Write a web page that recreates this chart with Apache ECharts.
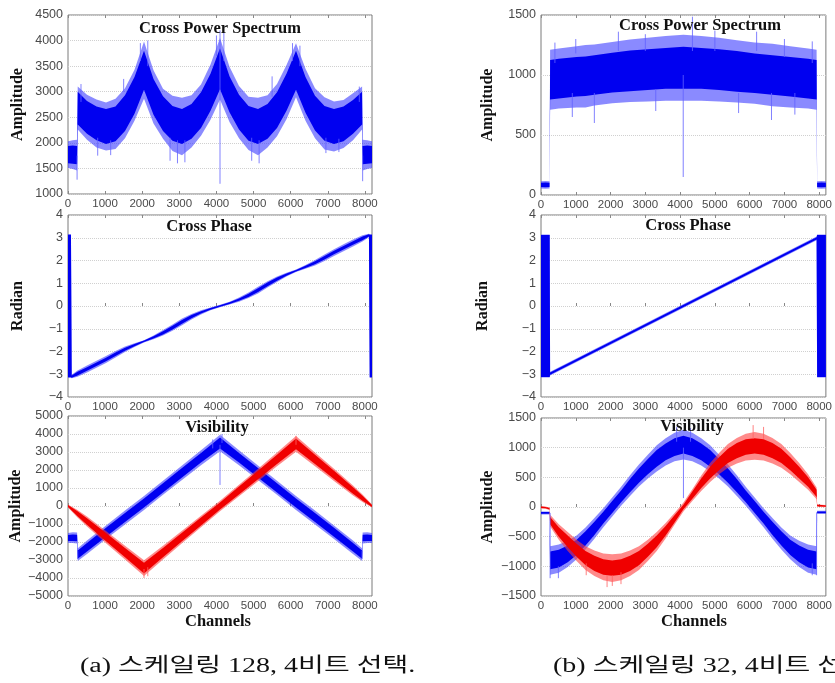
<!DOCTYPE html>
<html>
<head>
<meta charset="utf-8">
<script src="https://cdn.jsdelivr.net/npm/echarts@6/dist/echarts.min.js"></script>
<style>
  body { margin: 0; background: #fff; }
  #chart { width: 835px; height: 683px; }
</style>
</head>
<body>
<div id="chart"></div>
<script>
var channelTicks = [0, 1000, 2000, 3000, 4000, 5000, 6000, 7000, 8000];

// (a) scaling 128 - cross power spectrum (mid value, dense half width, light half width)
var a1Ch   = [0, 128, 245, 262, 512, 768, 1024, 1280, 1536, 1792, 2048, 2304, 2560, 2816, 3072, 3328, 3584, 3840, 4096, 4352, 4608, 4864, 5120, 5376, 5632, 5888, 6144, 6400, 6656, 6912, 7168, 7424, 7680, 7925, 7940, 8064, 8192];
var a1Mid  = [1770, 1770, 1760, 2680, 2500, 2380, 2320, 2370, 2580, 2930, 3420, 2900, 2570, 2380, 2320, 2420, 2640, 2990, 3450, 2950, 2600, 2380, 2320, 2420, 2640, 2990, 3420, 2940, 2580, 2380, 2320, 2370, 2510, 2680, 1760, 1770, 1770];
var a1Core = [170, 180, 180, 320, 320, 330, 340, 340, 350, 360, 380, 350, 340, 340, 340, 340, 350, 360, 400, 350, 340, 340, 340, 340, 350, 360, 380, 350, 340, 340, 340, 340, 330, 320, 180, 180, 170];
var a1Fuzz = [260, 280, 300, 420, 440, 470, 470, 490, 490, 500, 560, 520, 490, 540, 560, 510, 500, 540, 600, 540, 510, 520, 560, 510, 510, 530, 530, 510, 490, 510, 490, 470, 460, 420, 300, 280, 260];
var a1Spikes = [[4096, 1200, 4200], [245, 1280, 1750], [7940, 1250, 1750], [800, 1750, 2100], [1150, 1760, 2050],
  [2750, 1650, 2100], [2950, 1600, 2050], [3150, 1620, 2050], [4950, 1650, 2100], [5150, 1600, 2050], [6950, 1800, 2100],
  [7300, 1820, 2080], [350, 2800, 3150], [1950, 3600, 3950], [2150, 3500, 4000], [4000, 3700, 4100], [4200, 3600, 4150],
  [6050, 3600, 3950], [6250, 3500, 3900], [7850, 2800, 3100], [1500, 3000, 3250], [5500, 2900, 3300]];

// (a) cross phase
var a2Ch   = [0, 80, 100, 256, 512, 768, 1024, 1280, 1536, 1792, 2048, 2304, 2560, 2816, 3072, 3328, 3584, 3840, 4096, 4352, 4608, 4864, 5120, 5376, 5632, 5888, 6144, 6400, 6656, 6912, 7168, 7424, 7680, 7936, 8110, 8130, 8192];
var a2Mid  = [0, 0, -3.1, -2.97, -2.77, -2.56, -2.35, -2.12, -1.9, -1.72, -1.55, -1.38, -1.18, -0.95, -0.7, -0.47, -0.28, -0.13, 0, 0.13, 0.28, 0.47, 0.7, 0.95, 1.18, 1.38, 1.55, 1.72, 1.9, 2.12, 2.35, 2.56, 2.77, 2.97, 3.1, 0, 0];
var a2Core = [3.13, 3.13, 0.05, 0.08, 0.08, 0.08, 0.08, 0.08, 0.07, 0.05, 0.03, 0.05, 0.07, 0.08, 0.08, 0.07, 0.05, 0.04, 0.03, 0.04, 0.05, 0.07, 0.08, 0.08, 0.07, 0.05, 0.03, 0.05, 0.07, 0.08, 0.08, 0.08, 0.08, 0.08, 0.05, 3.13, 3.13];
var a2Fuzz = [3.15, 3.15, 0.08, 0.14, 0.15, 0.15, 0.15, 0.14, 0.12, 0.08, 0.05, 0.08, 0.12, 0.14, 0.15, 0.12, 0.09, 0.06, 0.05, 0.06, 0.09, 0.12, 0.15, 0.14, 0.12, 0.08, 0.05, 0.08, 0.12, 0.14, 0.15, 0.15, 0.15, 0.14, 0.08, 3.15, 3.15];

// (a) visibility, real (blue) and imaginary (red)
var a3BlueCh   = [0, 128, 245, 262, 512, 1024, 1536, 2048, 2560, 3072, 3584, 4096, 4608, 5120, 5632, 6144, 6656, 7168, 7680, 7925, 7940, 8064, 8192];
var a3BlueMid  = [-1780, -1760, -1780, -2700, -2290, -1460, -640, 170, 1010, 1850, 2680, 3500, 2680, 1850, 1010, 170, -640, -1460, -2290, -2700, -1780, -1760, -1780];
var a3BlueCore = [170, 180, 180, 230, 240, 250, 250, 250, 260, 260, 270, 300, 270, 260, 260, 250, 250, 250, 240, 230, 180, 180, 170];
var a3BlueFuzz = [280, 300, 310, 350, 370, 370, 390, 390, 390, 400, 420, 460, 420, 400, 390, 390, 390, 370, 370, 350, 310, 300, 280];
var a3BlueSpikes = [[4096, 1170, 3400], [262, -2950, -2500], [7925, -2950, -2500], [4150, 3500, 4000], [3900, 3200, 3700]];
var a3RedCh   = [0, 256, 512, 1024, 1536, 2048, 2560, 3072, 3584, 4096, 4608, 5120, 5632, 6144, 6656, 7168, 7680, 7936, 8192];
var a3RedMid  = [0, -430, -860, -1725, -2590, -3450, -2590, -1725, -860, 0, 860, 1725, 2590, 3450, 2590, 1725, 860, 430, 0];
var a3RedCore = [60, 140, 180, 230, 260, 300, 260, 240, 220, 200, 220, 240, 260, 300, 260, 230, 180, 140, 60];
var a3RedFuzz = [90, 210, 280, 340, 380, 440, 380, 350, 320, 290, 320, 350, 380, 440, 380, 340, 280, 210, 90];
var a3RedSpikes = [[2048, -4000, -3500], [2150, -3900, -3400], [6144, 3400, 3900]];

// (b) scaling 32 - cross power spectrum
var b1Ch   = [0, 128, 245, 262, 512, 1024, 1280, 1536, 2048, 2560, 3072, 3584, 4096, 4608, 5120, 5632, 6144, 6656, 7168, 7680, 7925, 7940, 8064, 8192];
var b1Mid  = [85, 85, 85, 960, 970, 985, 990, 1000, 1020, 1035, 1045, 1055, 1060, 1055, 1045, 1030, 1015, 1000, 985, 970, 960, 85, 85, 85];
var b1Core = [18, 20, 18, 165, 165, 165, 165, 165, 165, 170, 170, 170, 175, 170, 170, 170, 165, 165, 165, 165, 165, 18, 20, 18];
var b1Fuzz = [30, 32, 30, 250, 250, 255, 260, 255, 255, 260, 265, 270, 275, 270, 265, 260, 255, 260, 255, 250, 250, 30, 32, 30];
var b1Spikes = [[4090, 150, 1000], [1534, 600, 850], [6628, 625, 850], [5682, 683, 850], [4355, 1200, 1486], [6200, 1200, 1361],
  [2225, 1200, 1361], [900, 650, 850], [3300, 700, 880], [7300, 670, 850], [1000, 1180, 1300], [3000, 1200, 1340],
  [5000, 1200, 1370], [7000, 1150, 1300], [7800, 1100, 1280], [400, 1100, 1270]];

// (b) cross phase
var b2Ch   = [0, 250, 262, 7925, 7940, 8192];
var b2Mid  = [0, 0, -2.97, 2.97, 0, 0];
var b2Core = [3.12, 3.12, 0.05, 0.05, 3.12, 3.12];
var b2Fuzz = [3.14, 3.14, 0.08, 0.08, 3.14, 3.14];

// (b) visibility
var b3Ch = [0, 128, 245, 262, 512, 768, 1024, 1280, 1536, 1792, 2048, 2304, 2560, 2816, 3072, 3328, 3584, 3840, 4096, 4352, 4608, 4864, 5120, 5376, 5632, 5888, 6144, 6400, 6656, 6912, 7168, 7424, 7680, 7925, 7940, 8064, 8192];
var b3BlueMid  = [-100, -100, -100, -900, -870, -790, -680, -530, -360, -180, 0, 180, 360, 530, 680, 820, 930, 1010, 1050, 1010, 930, 820, 680, 530, 360, 180, 0, -180, -360, -530, -680, -790, -870, -900, -90, -90, -90];
var b3BlueCore = [15, 15, 15, 150, 150, 140, 130, 120, 110, 100, 100, 100, 110, 120, 130, 140, 140, 150, 150, 150, 140, 140, 130, 120, 110, 100, 100, 100, 110, 120, 130, 140, 150, 150, 15, 15, 15];
var b3BlueFuzz = [25, 25, 25, 240, 240, 220, 200, 185, 175, 160, 160, 160, 175, 185, 200, 220, 230, 240, 250, 240, 230, 220, 200, 185, 175, 160, 160, 160, 175, 185, 200, 220, 240, 240, 25, 25, 25];
var b3BlueSpikes = [[4096, 150, 1000], [262, -1200, -100], [7925, -1150, -90], [3900, 1100, 1350], [4300, 1100, 1330], [7800, -1150, -950], [500, -1200, -1000]];
var b3RedMid  = [-5, -10, -30, -230, -420, -580, -730, -860, -950, -1010, -1030, -1010, -950, -860, -730, -580, -400, -200, 0, 200, 400, 580, 730, 860, 950, 1010, 1030, 1010, 950, 860, 730, 580, 420, 230, 25, 20, 15];
var b3RedCore = [12, 12, 12, 60, 80, 100, 110, 120, 130, 130, 130, 130, 130, 120, 110, 100, 80, 60, 40, 60, 80, 100, 110, 120, 130, 130, 130, 130, 130, 120, 110, 100, 80, 60, 12, 12, 12];
var b3RedFuzz = [20, 20, 20, 100, 130, 160, 180, 200, 215, 225, 235, 225, 215, 200, 180, 160, 130, 100, 75, 100, 130, 160, 180, 200, 215, 225, 235, 225, 215, 200, 180, 160, 130, 100, 20, 20, 20];
var b3RedSpikes = [[1900, -1350, -1150], [2050, -1330, -1150], [2300, -1300, -1100], [6100, 1150, 1380], [6400, 1150, 1350], [1300, -1150, -950]];

var blue = '#0000f0', blueLight = '#3c3cff', blueSpike = '#6262ff';
var red = '#f00000', redLight = '#ff3c3c', redSpike = '#ff6262';

// y axis settings per panel
var yMin = [1000, -4, -5000, 0, -4, -1500];
var yMax = [4500, 4, 5000, 1500, 4, 1500];
var yStep = [500, 1, 1000, 500, 1, 500];
var yNames = ['Amplitude', 'Radian', 'Amplitude', 'Amplitude', 'Radian', 'Amplitude'];

// filled band between mid-spread and mid+spread, drawn as one polygon
function band(gi, ch, mid, spread, color, opacity) {
  var data = [];
  for (var i = 0; i < ch.length; i++) {
    data.push([ch[i], mid[i] - spread[i], mid[i] + spread[i]]);
  }
  return {
    type: 'custom', xAxisIndex: gi, yAxisIndex: gi, data: data, silent: true, clip: true,
    encode: { x: 0, y: [1, 2] },
    renderItem: function (params, api) {
      if (params.dataIndexInside !== 0) return null;
      var top = [];
      var bottom = [];
      for (var k = 0; k < params.dataInsideLength; k++) {
        top.push(api.coord([api.value(0, k), api.value(2, k)]));
        bottom.unshift(api.coord([api.value(0, k), api.value(1, k)]));
      }
      return { type: 'polygon', shape: { points: top.concat(bottom) }, style: { fill: color, opacity: opacity } };
    }
  };
}

function trace(gi, ch, mid, core, fuzz, color, lightColor) {
  return [band(gi, ch, mid, fuzz, lightColor, 0.6), band(gi, ch, mid, core, color, 1)];
}

function spikes(gi, list, color) {
  var data = [];
  list.forEach(function (s) {
    data.push([s[0], s[1]], [s[0], s[2]], [s[0], '-']);
  });
  return { type: 'line', xAxisIndex: gi, yAxisIndex: gi, data: data, symbol: 'none', silent: true,
    lineStyle: { color: color, width: 1, opacity: 0.8 } };
}

var chart = echarts.init(document.getElementById('chart'), null, { renderer: 'canvas' });

var grids = [
  { left: 68, top: 15, width: 304, height: 179 },
  { left: 68, top: 215, width: 304, height: 182 },
  { left: 68, top: 416, width: 304, height: 180 },
  { left: 541, top: 15, width: 290, height: 180 },
  { left: 541, top: 215, width: 290, height: 182 },
  { left: 541, top: 418, width: 290, height: 178 }
];
var nameGaps = [42, 42, 42, 45, 50, 45];

var xAxes = [];
var yAxes = [];
grids.forEach(function (g, i) {
  g.show = true;
  g.borderColor = '#7a7a7a';
  g.borderWidth = 1;
  xAxes.push({
    gridIndex: i, type: 'value', min: 0, max: 8192,
    axisLine: { show: false },
    axisTick: { inside: true, length: 3, customValues: channelTicks, lineStyle: { color: '#888' } },
    axisLabel: { customValues: channelTicks, margin: 4, fontSize: 11.5, color: '#4a4a4a',
      fontFamily: "'Liberation Sans Narrow', 'Liberation Sans', sans-serif",
      formatter: function (v) { return String(v); } },
    splitLine: { show: false }
  });
  yAxes.push({
    gridIndex: i, type: 'value', min: yMin[i], max: yMax[i], interval: yStep[i],
    axisLine: { show: false },
    axisTick: { show: false },
    axisLabel: { margin: 5, fontSize: 12.5, color: '#4a4a4a', fontFamily: "'Liberation Sans', sans-serif",
      formatter: function (v) { return String(v).replace('-', '\u2212'); } },
    splitLine: { lineStyle: { color: '#d0d0d0', type: 'dotted' } },
    name: yNames[i], nameLocation: 'middle', nameGap: nameGaps[i],
    nameTextStyle: { fontFamily: "'Liberation Serif', serif", fontWeight: 'bold', fontSize: 16, color: '#111' }
  });
});
grids.forEach(function (g, i) {
  xAxes.push({
    gridIndex: i, type: 'value', min: 0, max: 8192, position: 'top',
    axisLine: { show: false }, axisLabel: { show: false }, splitLine: { show: false },
    axisTick: { inside: true, length: 3, customValues: channelTicks, lineStyle: { color: '#888' } }
  });
});

var series = []
  .concat(trace(0, a1Ch, a1Mid, a1Core, a1Fuzz, blue, blueLight))
  .concat([spikes(0, a1Spikes, blueSpike)])
  .concat(trace(1, a2Ch, a2Mid, a2Core, a2Fuzz, blue, blueLight))
  .concat(trace(2, a3BlueCh, a3BlueMid, a3BlueCore, a3BlueFuzz, blue, blueLight))
  .concat([spikes(2, a3BlueSpikes, blueSpike)])
  .concat(trace(2, a3RedCh, a3RedMid, a3RedCore, a3RedFuzz, red, redLight))
  .concat([spikes(2, a3RedSpikes, redSpike)])
  .concat(trace(3, b1Ch, b1Mid, b1Core, b1Fuzz, blue, blueLight))
  .concat([spikes(3, b1Spikes, blueSpike)])
  .concat(trace(4, b2Ch, b2Mid, b2Core, b2Fuzz, blue, blueLight))
  .concat(trace(5, b3Ch, b3BlueMid, b3BlueCore, b3BlueFuzz, blue, blueLight))
  .concat([spikes(5, b3BlueSpikes, blueSpike)])
  .concat(trace(5, b3Ch, b3RedMid, b3RedCore, b3RedFuzz, red, redLight))
  .concat([spikes(5, b3RedSpikes, redSpike)]);

var titleFont = "bold 16.5px 'Liberation Serif', serif";
function label(x, y, text) {
  return { type: 'text', x: x, y: y, z: 100,
    style: { text: text, font: titleFont, fill: '#111', align: 'center', verticalAlign: 'middle' } };
}
// the captions in the source figure are set wide, so stretch them horizontally
function caption(x, text) {
  return { type: 'text', x: x, y: 667, scaleX: 1.4, z: 100,
    style: { text: text, fill: '#111', font: "20px 'Liberation Serif', 'Noto Sans CJK KR'", verticalAlign: 'middle' } };
}

var option = {
  animation: false,
  backgroundColor: '#fff',
  grid: grids,
  xAxis: xAxes,
  yAxis: yAxes,
  series: series,
  graphic: [
    label(220, 29, 'Cross Power Spectrum'),
    label(209, 227, 'Cross Phase'),
    label(217, 428, 'Visibility'),
    label(218, 622, 'Channels'),
    label(700, 26, 'Cross Power Spectrum'),
    label(688, 226, 'Cross Phase'),
    label(692, 427, 'Visibility'),
    label(694, 622, 'Channels'),
    caption(80, '(a) 스케일링 128, 4비트 선택.'),
    caption(553, '(b) 스케일링 32, 4비트 선택.')
  ]
};
chart.setOption(option);
</script>
</body>
</html>
